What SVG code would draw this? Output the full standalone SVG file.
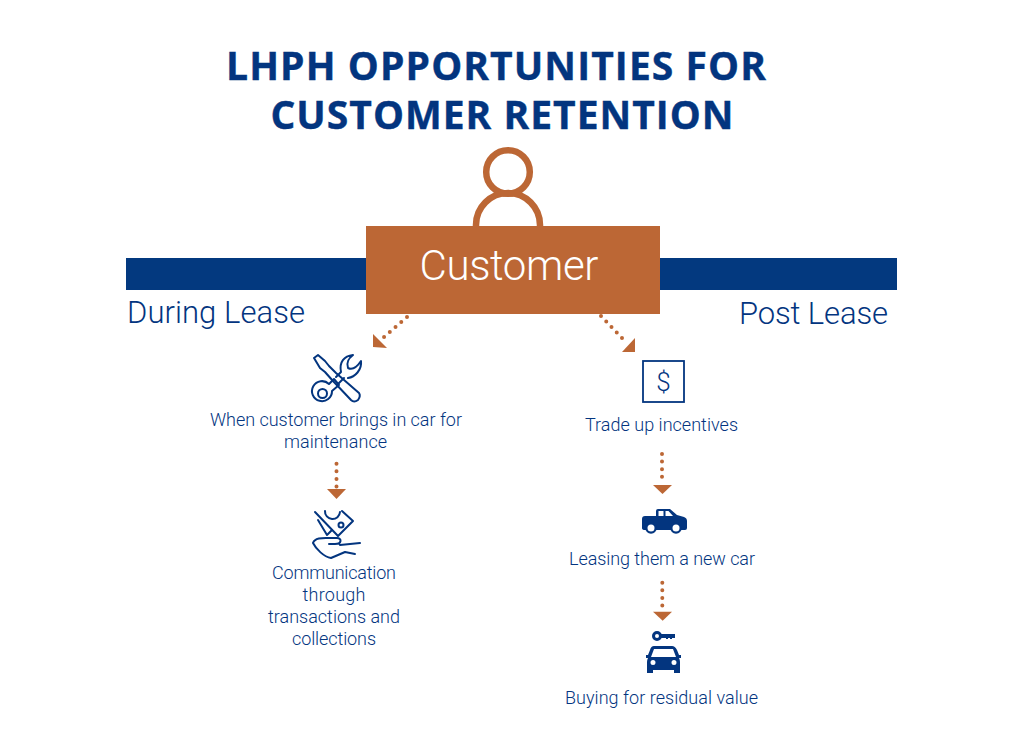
<svg xmlns="http://www.w3.org/2000/svg" width="1018" height="751" viewBox="0 0 1018 751">
<style>
.t{font-family:"Open Sans","Liberation Sans",sans-serif;font-weight:700;font-size:39px;fill:#03357f;stroke:#03357f;stroke-width:.4;text-anchor:middle}
.h{font-family:"Roboto","Open Sans",sans-serif;font-weight:300;font-size:31px;fill:#03357f}
.b{font-family:"Roboto","Open Sans",sans-serif;font-weight:300;font-size:18px;fill:#03357f;text-anchor:middle}
.d{fill:none;stroke:#bc6735;stroke-width:4;stroke-linecap:round;stroke-dasharray:0 7.6}
.a{fill:#bc6735}
.i{fill:none;stroke:#03357f;stroke-width:2;stroke-linejoin:round;stroke-linecap:round}
.s{fill:#03357f}
</style>
<rect width="1018" height="751" fill="#fff"/>
<g id="title">
<text class="t" x="496" y="80" textLength="540" lengthAdjust="spacing">LHPH OPPORTUNITIES FOR</text>
<text class="t" x="502" y="129" textLength="463" lengthAdjust="spacing">CUSTOMER RETENTION</text>
</g>
<g id="bars">
<rect x="126" y="258" width="771" height="32" fill="#03397f"/>
</g>
<g id="customer">
<circle cx="508" cy="172" r="21.800" fill="none" stroke="#bc6735" stroke-width="6.500"/>
<path d="M476 228V225A32 32 0 0 1 540 225V228" fill="none" stroke="#bc6735" stroke-width="6.500"/>
<rect x="366" y="226" width="294" height="88" fill="#bc6735"/>
<text x="509" y="280" font-family="Roboto,'Open Sans',sans-serif" font-weight="300" font-size="42" fill="#fff" text-anchor="middle" textLength="179" lengthAdjust="spacing">Customer</text>
</g>
<g id="during-lease"><text class="h" x="127" y="323" textLength="178" lengthAdjust="spacing">During Lease</text></g>
<g id="post-lease"><text class="h" x="739" y="324" textLength="149" lengthAdjust="spacing">Post Lease</text></g>
<g id="connectors">
<path class="d" d="M407 317L384 337"/><path class="a" d="M373 334V347L387 348Z"/>
<path class="d" d="M601 316L622 338"/><path class="a" d="M635 338V352H622Z"/>
<path class="d" d="M336.500 463.700V487"/><path class="a" d="M327 489H346L336.500 499Z"/>
<path class="d" d="M662 454V477"/><path class="a" d="M653 485H672L662.500 494Z"/>
<path class="d" d="M662.300 582.700V606"/><path class="a" d="M653 611.700H672L662.700 620.700Z"/>
</g>
<g id="maintenance">
<g class="i">
<path d="M314 358L318 355 325 361 329 366 336 373 359 393Q361 396 358 400 354 403 351 400L333 381 325 372 320 368Z"/>
<path d="M337 385L344 378"/>
<path d="M329 384L334 379 339 385 332 391A10 10 0 1 1 329 384Z"/>
<circle cx="322.500" cy="393.500" r="4.500"/>
<path d="M336 377L341 372C339 362 344 356 353 355 349 358 346 363 348 368 352 370 357 367 361 361 362 370 355 377 348 378"/>
</g>
<text class="b" x="336" y="426" textLength="252" lengthAdjust="spacing">When customer brings in car for</text>
<text class="b" x="335.500" y="448" textLength="103" lengthAdjust="spacing">maintenance</text>
</g>
<g id="communication">
<g class="i" stroke-width="1.800">
<path d="M315 512L338 536 353 521 342 511"/>
<path d="M318 520L327 535 332 530"/>
<path d="M325 511A7.500 7.500 0 0 0 340 512"/>
<circle cx="341" cy="525" r="2.500"/>
<path d="M313 543C315 537 324 538 330 538H337C342 538 342 544 335 544H329M340 545L360 543M313 543C316 549 324 557 331 558L345 552 355 554"/>
</g>
<text class="b" x="334" y="579" textLength="124" lengthAdjust="spacing">Communication</text>
<text class="b" x="334" y="601" textLength="63" lengthAdjust="spacing">through</text>
<text class="b" x="334" y="623" textLength="132" lengthAdjust="spacing">transactions and</text>
<text class="b" x="334" y="645" textLength="84" lengthAdjust="spacing">collections</text>
</g>
<g id="trade-up">
<rect x="643" y="361" width="41" height="41" fill="none" stroke="#03357f" stroke-width="1.800"/>
<text x="663.500" y="391" font-family="Roboto,'Open Sans',sans-serif" font-weight="300" font-size="26" fill="#03357f" text-anchor="middle">$</text>
<text class="b" x="661.500" y="431" textLength="153" lengthAdjust="spacing">Trade up incentives</text>
</g>
<g id="new-car">
<path class="s" fill-rule="evenodd" d="M642 519Q642 516 645 516H656V511Q656 509 658 509H670L677 515 684 517Q687 518 687 521V528Q687 530 685 530H645Q642 530 642 528ZM658.500 511V516H663.500V511ZM665.500 511V516H673L668.500 511Z"/>
<circle class="s" cx="651" cy="528" r="5.800"/><circle class="s" cx="676" cy="528" r="5.800"/>
<circle cx="651" cy="528" r="3.500" fill="#fff"/><circle cx="676" cy="528" r="3.500" fill="#fff"/>
<text class="b" x="662" y="565" textLength="186" lengthAdjust="spacing">Leasing them a new car</text>
</g>
<g id="residual">
<circle cx="657" cy="636" r="3.500" fill="none" stroke="#03357f" stroke-width="3"/>
<path class="s" d="M660 634H675V638H672V639H670V638H668V639H666V638H660Z"/>
<path class="s" fill-rule="evenodd" d="M654 646H672Q675 646 677 650L679 655H681V658H679Q680 660 680 662V673H674V670H653V673H647V662Q647 660 648 658H646V655H648L650 650Q651 646 654 646ZM654 649L651 657H676L673 649ZM653 660A2.500 2.500 0 1 0 653 665 2.500 2.500 0 1 0 653 660ZM674 660A2.500 2.500 0 1 0 674 665 2.500 2.500 0 1 0 674 660Z"/>
<text class="b" x="661.500" y="704" textLength="193" lengthAdjust="spacing">Buying for residual value</text>
</g>
</svg>
